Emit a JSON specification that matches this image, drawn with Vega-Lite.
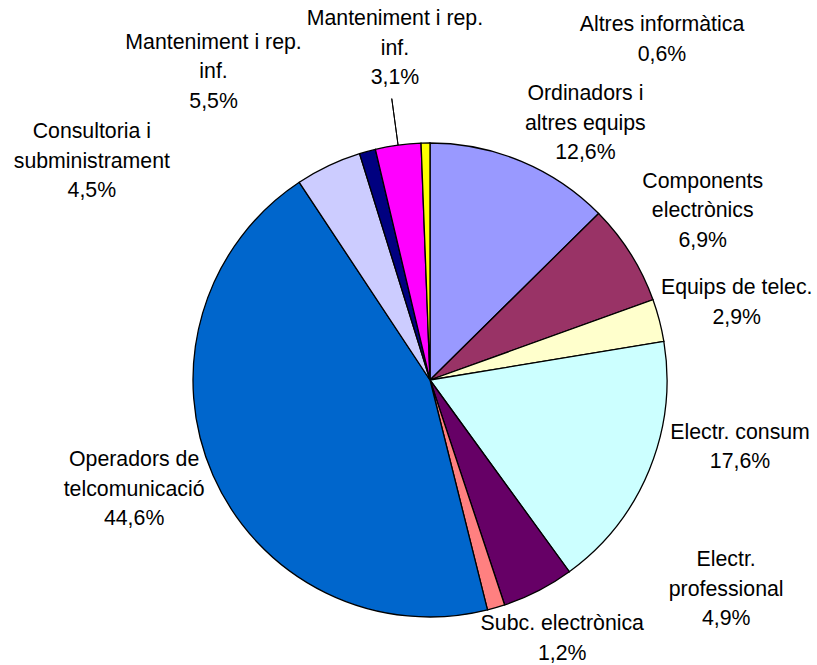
{
  "$schema": "https://vega.github.io/schema/vega-lite/v6.json",
  "width": 774,
  "height": 570,
  "autosize": {"type": "none"},
  "padding": {"left": 43, "top": 95, "right": 0, "bottom": 0},
  "background": "white",
  "config": {"view": {"stroke": null}},
  "data": {
    "values": [
      {"order": 1, "name": "Ordinadors i altres equips", "value": 12.6, "label": "Ordinadors i\naltres equips\n12,6%"},
      {"order": 2, "name": "Components electrònics", "value": 6.9, "label": "Components\nelectrònics\n6,9%"},
      {"order": 3, "name": "Equips de telec.", "value": 2.9, "label": "Equips de telec.\n2,9%"},
      {"order": 4, "name": "Electr. consum", "value": 17.6, "label": "Electr. consum\n17,6%"},
      {"order": 5, "name": "Electr. professional", "value": 4.9, "label": "Electr.\nprofessional\n4,9%"},
      {"order": 6, "name": "Subc. electrònica", "value": 1.2, "label": "Subc. electrònica\n1,2%"},
      {"order": 7, "name": "Operadors de telcomunicació", "value": 44.6, "label": "Operadors de\ntelcomunicació\n44,6%"},
      {"order": 8, "name": "Consultoria i subministrament", "value": 4.5, "label": "Consultoria i\nsubministrament\n4,5%"},
      {"order": 9, "name": "Manteniment i rep. inf. (5,5%)", "value": 1.1, "label": "Manteniment i rep.\ninf.\n5,5%"},
      {"order": 10, "name": "Manteniment i rep. inf. (3,1%)", "value": 3.1, "label": "Manteniment i rep.\ninf.\n3,1%"},
      {"order": 11, "name": "Altres informàtica", "value": 0.6, "label": "Altres informàtica\n0,6%"}
    ]
  },
  "transform": [
    {"stack": "value", "groupby": [], "sort": [{"field": "order", "order": "ascending"}], "as": ["v0", "v1"]},
    {"calculate": "(datum.v0 + datum.v1) / 2", "as": "mid"}
  ],
  "layer": [
    {
      "mark": {"type": "arc", "radius": 237, "stroke": "black", "strokeWidth": 1.3},
      "encoding": {
        "theta": {"field": "v0", "type": "quantitative", "scale": {"domain": [0, 100]}},
        "theta2": {"field": "v1"},
        "color": {
          "field": "name",
          "type": "nominal",
          "legend": null,
          "scale": {
            "domain": ["Ordinadors i altres equips", "Components electrònics", "Equips de telec.", "Electr. consum", "Electr. professional", "Subc. electrònica", "Operadors de telcomunicació", "Consultoria i subministrament", "Manteniment i rep. inf. (5,5%)", "Manteniment i rep. inf. (3,1%)", "Altres informàtica"],
            "range": ["#9999FF", "#993366", "#FFFFCC", "#CCFFFF", "#660066", "#FF8080", "#0066CC", "#CCCCFF", "#000080", "#FF00FF", "#FFFF00"]
          }
        }
      }
    },
    {
      "transform": [{"filter": "datum.order == 10"}],
      "mark": {"type": "arc", "radius": 284, "radius2": 237, "stroke": "black", "strokeWidth": 1, "fill": null},
      "encoding": {
        "theta": {"field": "mid", "type": "quantitative", "scale": {"domain": [0, 100]}},
        "theta2": {"field": "mid"}
      }
    },
    {"transform": [{"filter": "datum.order == 1"}], "mark": {"type": "text", "radius": 320, "dx": 32, "dy": 9.5, "font": "Liberation Sans", "fontSize": 21.3, "lineHeight": 29.5, "lineBreak": "\n", "align": "center", "baseline": "middle", "color": "black"}, "encoding": {"theta": {"field": "mid", "type": "quantitative", "scale": {"domain": [0, 100]}}, "text": {"field": "label", "type": "nominal"}}},
    {"transform": [{"filter": "datum.order == 2"}], "mark": {"type": "text", "radius": 320, "dx": 2, "dy": -27.5, "font": "Liberation Sans", "fontSize": 21.3, "lineHeight": 29.5, "lineBreak": "\n", "align": "center", "baseline": "middle", "color": "black"}, "encoding": {"theta": {"field": "mid", "type": "quantitative", "scale": {"domain": [0, 100]}}, "text": {"field": "label", "type": "nominal"}}},
    {"transform": [{"filter": "datum.order == 3"}], "mark": {"type": "text", "radius": 320, "dx": -3, "dy": -11, "font": "Liberation Sans", "fontSize": 21.3, "lineHeight": 29.5, "lineBreak": "\n", "align": "center", "baseline": "middle", "color": "black"}, "encoding": {"theta": {"field": "mid", "type": "quantitative", "scale": {"domain": [0, 100]}}, "text": {"field": "label", "type": "nominal"}}},
    {"transform": [{"filter": "datum.order == 4"}], "mark": {"type": "text", "radius": 320, "dx": 14, "dy": -69, "font": "Liberation Sans", "fontSize": 21.3, "lineHeight": 29.5, "lineBreak": "\n", "align": "center", "baseline": "middle", "color": "black"}, "encoding": {"theta": {"field": "mid", "type": "quantitative", "scale": {"domain": [0, 100]}}, "text": {"field": "label", "type": "nominal"}}},
    {"transform": [{"filter": "datum.order == 5"}], "mark": {"type": "text", "radius": 320, "dx": 150, "dy": -104.5, "font": "Liberation Sans", "fontSize": 21.3, "lineHeight": 29.5, "lineBreak": "\n", "align": "center", "baseline": "middle", "color": "black"}, "encoding": {"theta": {"field": "mid", "type": "quantitative", "scale": {"domain": [0, 100]}}, "text": {"field": "label", "type": "nominal"}}},
    {"transform": [{"filter": "datum.order == 6"}], "mark": {"type": "text", "radius": 320, "dx": 43, "dy": -63, "font": "Liberation Sans", "fontSize": 21.3, "lineHeight": 29.5, "lineBreak": "\n", "align": "center", "baseline": "middle", "color": "black"}, "encoding": {"theta": {"field": "mid", "type": "quantitative", "scale": {"domain": [0, 100]}}, "text": {"field": "label", "type": "nominal"}}},
    {"transform": [{"filter": "datum.order == 7"}], "mark": {"type": "text", "radius": 320, "dx": -3, "dy": -48.5, "font": "Liberation Sans", "fontSize": 21.3, "lineHeight": 29.5, "lineBreak": "\n", "align": "center", "baseline": "middle", "color": "black"}, "encoding": {"theta": {"field": "mid", "type": "quantitative", "scale": {"domain": [0, 100]}}, "text": {"field": "label", "type": "nominal"}}},
    {"transform": [{"filter": "datum.order == 8"}], "mark": {"type": "text", "radius": 320, "dx": -201, "dy": 41.5, "font": "Liberation Sans", "fontSize": 21.3, "lineHeight": 29.5, "lineBreak": "\n", "align": "center", "baseline": "middle", "color": "black"}, "encoding": {"theta": {"field": "mid", "type": "quantitative", "scale": {"domain": [0, 100]}}, "text": {"field": "label", "type": "nominal"}}},
    {"transform": [{"filter": "datum.order == 9"}], "mark": {"type": "text", "radius": 320, "dx": -132, "dy": -28.5, "font": "Liberation Sans", "fontSize": 21.3, "lineHeight": 29.5, "lineBreak": "\n", "align": "center", "baseline": "middle", "color": "black"}, "encoding": {"theta": {"field": "mid", "type": "quantitative", "scale": {"domain": [0, 100]}}, "text": {"field": "label", "type": "nominal"}}},
    {"transform": [{"filter": "datum.order == 10"}], "mark": {"type": "text", "radius": 320, "dx": 8, "dy": -43.5, "font": "Liberation Sans", "fontSize": 21.3, "lineHeight": 29.5, "lineBreak": "\n", "align": "center", "baseline": "middle", "color": "black"}, "encoding": {"theta": {"field": "mid", "type": "quantitative", "scale": {"domain": [0, 100]}}, "text": {"field": "label", "type": "nominal"}}},
    {"transform": [{"filter": "datum.order == 11"}], "mark": {"type": "text", "radius": 320, "dx": 238, "dy": -35, "font": "Liberation Sans", "fontSize": 21.3, "lineHeight": 29.5, "lineBreak": "\n", "align": "center", "baseline": "middle", "color": "black"}, "encoding": {"theta": {"field": "mid", "type": "quantitative", "scale": {"domain": [0, 100]}}, "text": {"field": "label", "type": "nominal"}}}
  ]
}
